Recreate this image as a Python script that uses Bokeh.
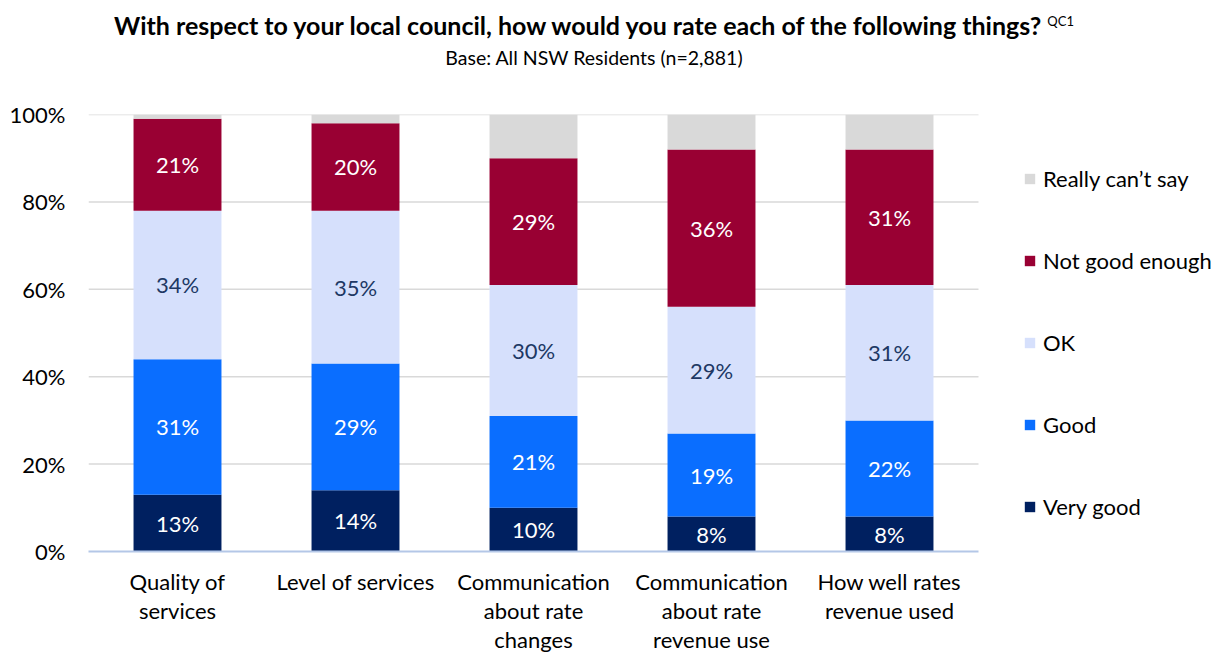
from bokeh.plotting import figure
from bokeh.models import (ColumnDataSource, Legend, LegendItem, LabelSet,
                          FixedTicker, Range1d, LinearAxis, Div)
from bokeh.layouts import column
from bokeh.core.properties import value
from bokeh.embed import file_html
from bokeh.resources import INLINE

# ---- data -------------------------------------------------------------
categories = ["Quality of\nservices", "Level of services",
              "Communication\nabout rate\nchanges",
              "Communication\nabout rate\nrevenue use",
              "How well rates\nrevenue used"]
very_good = [13, 14, 10, 8, 8]
good = [31, 29, 21, 19, 22]
ok = [34, 35, 30, 29, 31]
not_good_enough = [21, 20, 29, 36, 31]
cant_say = [1, 2, 10, 8, 8]
series_names = ["Very good", "Good", "OK", "Not good enough", "Really can\u2019t say"]
y_ticks = [0, 20, 40, 60, 80, 100]
title = "With respect to your local council, how would you rate each of the following things?"
title_note = "QC1"
subtitle = "Base: All NSW Residents (n=2,881)"

FONT = "Lato"
FS = "22px"
colors = ["#002060", "#0A6EFF", "#D6E0FC", "#990033", "#D9D9D9"]
label_colors = ["#FFFFFF", "#FFFFFF", "#203864", "#FFFFFF"]

series = [very_good, good, ok, not_good_enough, cant_say]
keys = ["s0", "s1", "s2", "s3", "s4"]
xs = list(range(len(categories)))
n = len(categories)

data = {"x": xs}
for k, vals in zip(keys, series):
    data[k] = vals
# label centres and texts for the four labelled segments
base = [0] * n
for i in range(4):
    data[f"mid{i}"] = [b + v / 2 for b, v in zip(base, series[i])]
    data[f"txt{i}"] = [f"{v}%" for v in series[i]]
    base = [b + v for b, v in zip(base, series[i])]
source = ColumnDataSource(data)

HEADER_H = 70
W = 1228
LEFT = 88
SLOT = 178           # pixels per category slot
# the frame runs to the right edge so the legend can sit inside it
x_end = -0.5 + (W - LEFT) / SLOT

p = figure(width=W, height=655 - HEADER_H, output_backend="svg", toolbar_location=None,
           x_range=Range1d(-0.5, x_end), y_range=Range1d(0, 100),
           x_axis_location=None,
           min_border_left=LEFT, min_border_right=0, min_border_top=114 - HEADER_H,
           min_border_bottom=104)
p.outline_line_color = None
p.background_fill_color = "white"
p.border_fill_color = "white"

# horizontal gridlines across the category area only
grid_y = y_ticks[1:]
p.segment(x0=[-0.5] * len(grid_y), x1=[n - 0.5] * len(grid_y), y0=grid_y, y1=grid_y,
          line_color="#D9D9D9", line_width=1.5)

renderers = p.vbar_stack(keys, x="x", width=0.494, color=colors, line_color=None,
                         source=source)

for i in range(4):
    p.add_layout(LabelSet(x="x", y=f"mid{i}", text=f"txt{i}", source=source,
                          text_align="center", text_baseline="middle",
                          text_font=value(FONT), text_font_size=FS,
                          text_color=label_colors[i]))

# y axis
p.yaxis.ticker = FixedTicker(ticks=y_ticks)
p.yaxis.major_label_overrides = {t: f"{t}%" for t in y_ticks}
p.yaxis.axis_line_color = None
p.yaxis.major_tick_line_color = None
p.yaxis.minor_tick_line_color = None
p.yaxis.major_tick_out = 0
p.yaxis.minor_tick_out = 0
p.yaxis.major_label_text_font = FONT
p.yaxis.major_label_text_font_size = FS
p.yaxis.major_label_text_color = "#000000"
p.yaxis.major_label_standoff = 23

# category axis: one stacked axis per text line
lines = [c.split("\n") for c in categories]
n_rows = max(len(l) for l in lines)
standoffs = [16, -1, -1]
for row in range(n_rows):
    ax = LinearAxis(ticker=FixedTicker(ticks=xs), bounds=(-0.5, n - 0.5),
                    major_label_overrides={x: (l[row] if row < len(l) else "")
                                           for x, l in zip(xs, lines)})
    ax.major_tick_line_color = None
    ax.minor_tick_line_color = None
    ax.major_tick_out = 0
    ax.major_tick_in = 0
    ax.minor_tick_out = 0
    ax.minor_tick_in = 0
    ax.major_label_text_font = FONT
    ax.major_label_text_font_size = FS
    ax.major_label_text_color = "#000000"
    ax.major_label_standoff = standoffs[row]
    if row == 0:
        ax.axis_line_color = "#B4C7E7"
        ax.axis_line_width = 2
    else:
        ax.axis_line_color = None
    p.add_layout(ax, "below")

p.xgrid.grid_line_color = None
p.ygrid.grid_line_color = None

# legend, top to bottom in reverse stacking order
items = [LegendItem(label=nm, renderers=[r]) for nm, r in zip(series_names, renderers)]
legend = Legend(items=items[::-1], location=(1023 - LEFT, 31), orientation="vertical",
                glyph_width=13, glyph_height=13, label_height=26, spacing=55,
                label_standoff=7, padding=0, margin=0,
                label_text_font=FONT, label_text_font_size=FS,
                label_text_color="#000000", border_line_color=None,
                background_fill_alpha=0)
p.add_layout(legend, "center")

header = Div(
    text=(f'<div style="font-family:{FONT};color:#000;text-align:center;'
          f'width:{W}px;padding-right:40px;box-sizing:border-box;">'
          f'<div style="font-weight:bold;font-size:25px;line-height:30px;padding-top:6px;white-space:nowrap;">'
          f'{title}<sup style="font-weight:normal;font-size:13px;margin-left:6px;">{title_note}</sup></div>'
          f'<div style="font-size:19.5px;line-height:22px;padding-top:7px;">{subtitle}</div>'
          f'</div>'),
    width=W, height=HEADER_H, margin=0)

layout = column(header, p, spacing=0)
open("out.html", "w").write(file_html(layout, INLINE))
